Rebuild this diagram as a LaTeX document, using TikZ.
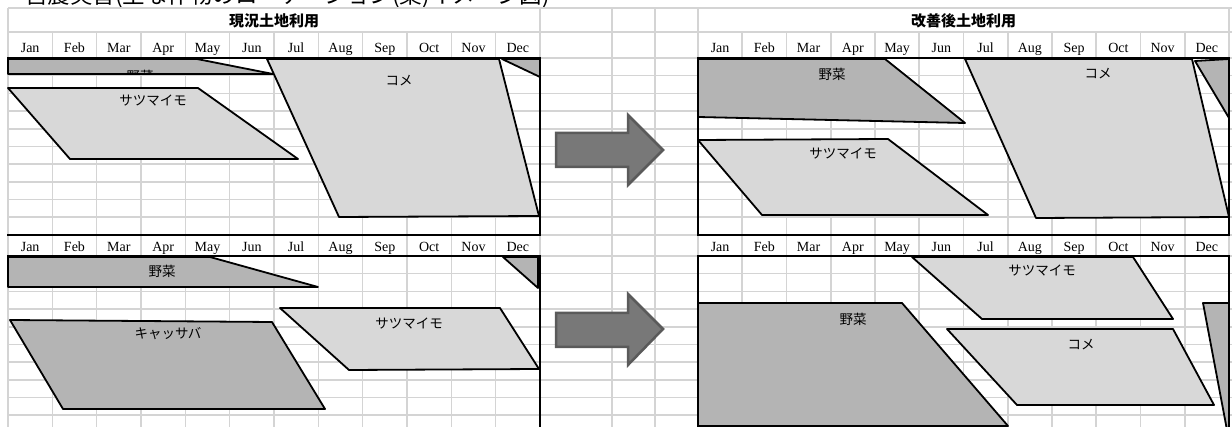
\documentclass[tikz,border=0pt]{standalone}
\usepackage{fontspec}
\setmainfont{Liberation Serif}
\newfontfamily\jp{Noto Sans CJK JP}
\definecolor{gridgray}{HTML}{D4D4D4}
\definecolor{cropdark}{HTML}{B4B4B4}
\definecolor{croplight}{HTML}{D8D8D8}
\definecolor{arrowfill}{HTML}{787878}
\definecolor{arrowline}{HTML}{5A5A5A}
\begin{document}
\begin{tikzpicture}[x=1pt,y=-1pt,
  gridline/.style={draw=gridgray, line width=1.6pt},
  border/.style={draw=black, line width=2.2pt, line cap=rect},
  crop/.style={draw=black, line width=1.8pt, line join=round},
  darkcrop/.style={crop, fill=cropdark},
  lightcrop/.style={crop, fill=croplight},
  month/.style={font=\fontsize{14}{14}\selectfont, inner sep=0pt, anchor=base},
  lbl/.style={font=\jp\fontsize{13.5}{14}\selectfont, inner sep=0pt},
  ttl/.style={font=\jp\bfseries\fontsize{15}{15}\selectfont, inner sep=0pt},
  bigarrow/.style={fill=arrowfill, draw=arrowline, line width=2.5pt, line join=miter}
]
\useasboundingbox (0,0) rectangle (1232,427);
\fill[white] (0,0) rectangle (1232,427);

% cut-off page title
\node[anchor=base west, font=\jp\fontsize{22.5}{23}\selectfont, inner sep=0pt] (pagetitle) at (25,4) {営農実習(主な作物のローテーション(案)イメージ図)};

% spreadsheet grid
\foreach \y in {8,32,58,75.7,93.4,111.1,128.8,146.5,164.2,181.9,199.6,217.3,235,256,273.7,291.4,309.1,326.8,344.5,362.2,379.9,397.6,415.3}
  \draw[gridline] (8,\y) -- (1232,\y);
\foreach \x in {8,540,612,655,698,1229}
  \draw[gridline] (\x,8) -- (\x,427);
\foreach \k in {1,...,11} {
  \draw[gridline] ({8+44.333*\k},32) -- ({8+44.333*\k},427);
  \draw[gridline] ({698+44.25*\k},32) -- ({698+44.25*\k},427);
}

% titles and months
\node[ttl] (titleA) at (274,21) {現況土地利用};
\node[ttl] (titleB) at (963.5,21) {改善後土地利用};
\foreach \m [count=\k from 0] in {Jan,Feb,Mar,Apr,May,Jun,Jul,Aug,Sep,Oct,Nov,Dec} {
  \node[month] (mA\k) at ({8+44.333*(\k+0.5)},52.5) {\m};
  \node[month] (mB\k) at ({698+44.25*(\k+0.5)},52.5) {\m};
  \node[month] (mC\k) at ({8+44.333*(\k+0.5)},251.5) {\m};
  \node[month] (mD\k) at ({698+44.25*(\k+0.5)},251.5) {\m};
}

% ---- top left: current land use ----
\draw[darkcrop] (8,59) -- (197,59) -- (273,74) -- (8,74) -- cycle;
\begin{scope}
  \clip (8,59) -- (197,59) -- (273,74) -- (8,74) -- cycle;
  \node[lbl] (vegA) at (140,76) {野菜};
\end{scope}
\draw[lightcrop] (267,59) -- (499,59) -- (539,216) -- (339,217) -- cycle;
\node[lbl] (riceA) at (399,81) {コメ};
\draw[darkcrop] (502,59) -- (540,59) -- (540,77) -- cycle;
\draw[lightcrop] (8,88) -- (198,88) -- (298,159) -- (70,159) -- cycle;
\node[lbl] (sweetA) at (153,101) {サツマイモ};

% ---- top right: improved land use ----
\draw[darkcrop] (698,59) -- (885,59) -- (965,123) -- (698,117) -- cycle;
\node[lbl] (vegB) at (832,74) {野菜};
\draw[lightcrop] (965,59) -- (1192,59) -- (1229,217) -- (1036,218) -- cycle;
\node[lbl] (riceB) at (1098,74) {コメ};
\draw[darkcrop] (1195,61) -- (1229,59) -- (1229,118) -- cycle;
\draw[lightcrop] (698,140) -- (888,139) -- (988,215) -- (762,215) -- cycle;
\node[lbl] (sweetB) at (843,154) {サツマイモ};

% ---- bottom left ----
\draw[darkcrop] (8,257) -- (210,257) -- (318,287) -- (8,287) -- cycle;
\node[lbl] (vegC) at (162,271) {野菜};
\draw[darkcrop] (503,257) -- (538,257) -- (538,288) -- cycle;
\draw[darkcrop] (10,320) -- (272,322) -- (325,409) -- (63,409) -- cycle;
\node[lbl] (cassC) at (168,334) {キャッサバ};
\draw[lightcrop] (280,308) -- (500,308) -- (539,369) -- (349,370) -- cycle;
\node[lbl] (sweetC) at (409,324) {サツマイモ};

% ---- bottom right ----
\draw[lightcrop] (912,257) -- (1133,257) -- (1173,319) -- (982,319) -- cycle;
\node[lbl] (sweetD) at (1042,271) {サツマイモ};
\draw[darkcrop] (698,303) -- (902,303) -- (1008,426) -- (698,426) -- cycle;
\node[lbl] (vegD) at (853,319) {野菜};
\draw[lightcrop] (947,329) -- (1173,329) -- (1214,405) -- (1017,405) -- cycle;
\node[lbl] (riceD) at (1081,345) {コメ};
\draw[darkcrop] (1203,303) -- (1229,303) -- (1229,430) -- (1227,430) -- cycle;

% panel borders
\foreach \y in {58,235,256} {
  \draw[border] (8,\y) -- (540,\y);
  \draw[border] (698,\y) -- (1229,\y);
}
\foreach \x in {540,698,1229} {
  \draw[border] (\x,58) -- (\x,235);
  \draw[border] (\x,256) -- (\x,430);
}

% block arrows
\draw[bigarrow] (556,133) -- (628,133) -- (628,115) -- (663,150) -- (628,185) -- (628,167) -- (556,167) -- cycle;
\draw[bigarrow] (556,313) -- (628,313) -- (628,294) -- (663,329) -- (628,365) -- (628,347) -- (556,347) -- cycle;
\end{tikzpicture}
\end{document}
